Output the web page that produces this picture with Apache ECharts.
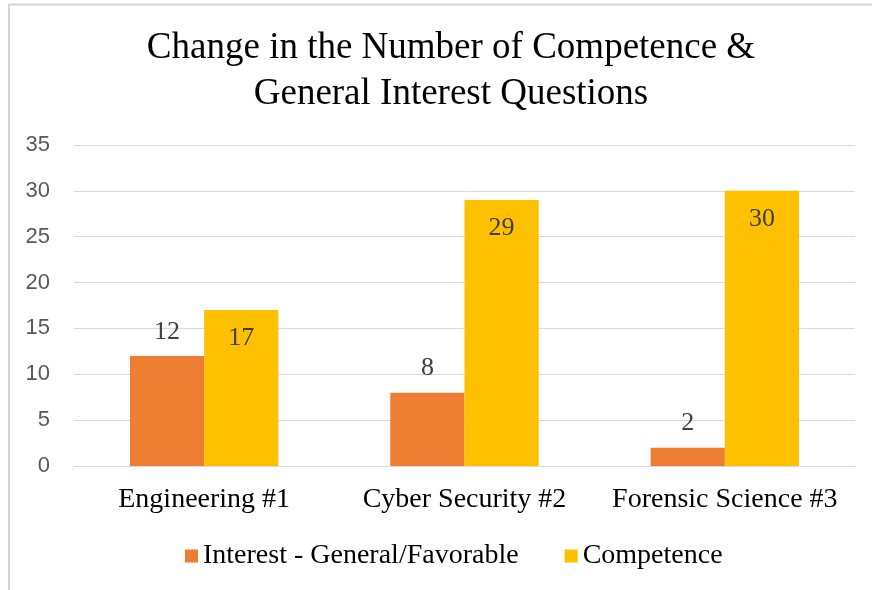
<!DOCTYPE html>
<html>
<head>
<meta charset="utf-8">
<script src="https://cdn.jsdelivr.net/npm/echarts@6/dist/echarts.min.js"></script>
<style>
  html, body { margin: 0; padding: 0; background: #fff; }
  #chart { width: 872px; height: 590px; }
</style>
</head>
<body>
<div id="chart"></div>
<script>
const categories = ['Engineering #1', 'Cyber Security #2', 'Forensic Science #3'];
const interestValues = [12, 8, 2];
const competenceValues = [17, 29, 30];
const seriesNames = ['Interest - General/Favorable', 'Competence'];

const serif = '"Liberation Serif", "DejaVu Serif", serif';
const sans = '"Liberation Sans", Arial, sans-serif';

const chart = echarts.init(document.getElementById('chart'));
chart.setOption({
  animation: false,
  backgroundColor: '#ffffff',
  graphic: [
    { type: 'line', shape: { x1: 9, y1: 4.5, x2: 872, y2: 4.5 }, style: { stroke: '#d4d4d4', lineWidth: 2 } },
    { type: 'line', shape: { x1: 9, y1: 4, x2: 9, y2: 590 }, style: { stroke: '#d4d4d4', lineWidth: 2 } }
  ],
  title: {
    text: 'Change in the Number of Competence &\nGeneral Interest Questions',
    left: 446,
    textAlign: 'center',
    top: 20,
    textStyle: {
      fontFamily: serif,
      fontSize: 37,
      fontWeight: 'normal',
      color: '#000000',
      lineHeight: 46
    }
  },
  legend: {
    top: 537,
    left: 180,
    itemWidth: 13,
    itemHeight: 13,
    itemGap: 46,
    icon: 'rect',
    textStyle: { fontFamily: serif, fontSize: 28, color: '#000000' },
    data: seriesNames
  },
  grid: { left: 74, right: 17, top: 145, bottom: 124, containLabel: false },
  xAxis: {
    type: 'category',
    data: categories,
    axisTick: { show: false },
    axisLine: { lineStyle: { color: '#d9d9d9' } },
    axisLabel: { interval: 0, fontFamily: serif, fontSize: 28, color: '#000000', margin: 20 }
  },
  yAxis: {
    type: 'value',
    min: 0,
    max: 35,
    interval: 5,
    axisLine: { show: false },
    axisTick: { show: false },
    splitLine: { lineStyle: { color: '#d9d9d9', width: 1 } },
    axisLabel: { fontFamily: sans, fontSize: 22, color: '#595959', margin: 24 }
  },
  series: [
    {
      name: seriesNames[0],
      type: 'bar',
      data: interestValues,
      barGap: '0%',
      barCategoryGap: '43%',
      itemStyle: { color: '#ed7d31' },
      label: {
        show: true,
        position: 'top',
        distance: 11,
        fontFamily: serif,
        fontSize: 26,
        color: '#404040'
      }
    },
    {
      name: seriesNames[1],
      type: 'bar',
      data: competenceValues,
      itemStyle: { color: '#ffc000' },
      label: {
        show: true,
        position: 'insideTop',
        distance: 15,
        fontFamily: serif,
        fontSize: 26,
        color: '#404040'
      }
    }
  ]
});
</script>
</body>
</html>
